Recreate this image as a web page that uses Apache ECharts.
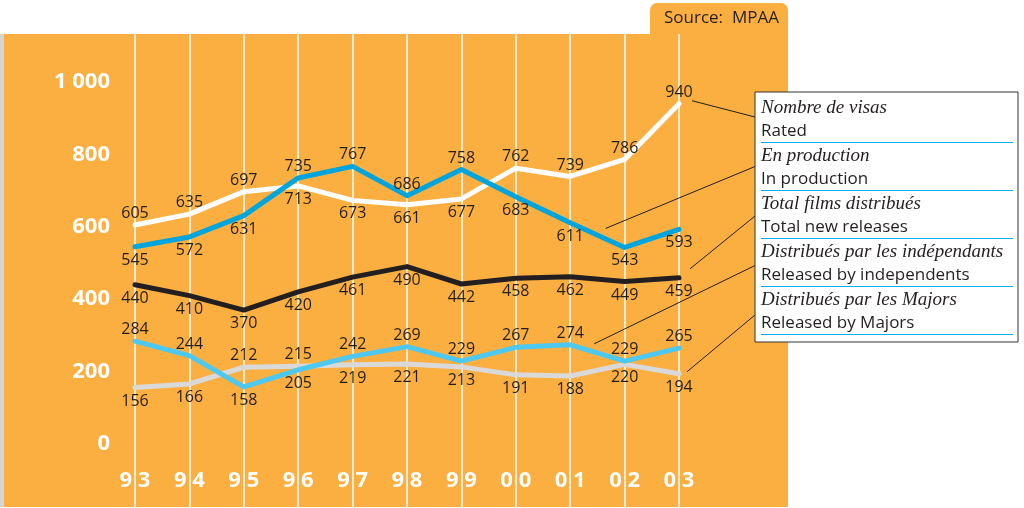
<!DOCTYPE html>
<html>
<head>
<meta charset="utf-8">
<title>MPAA - films</title>
<script src="https://cdn.jsdelivr.net/npm/echarts@6/dist/echarts.min.js"></script>
<style>
  html, body { margin: 0; padding: 0; background: #fff; }
  #chart { width: 1024px; height: 508px; }
</style>
</head>
<body>
<div id="chart"></div>
<script>
// years 1993 - 2003
var years = ['93', '94', '95', '96', '97', '98', '99', '00', '01', '02', '03']
var rated = [605, 635, 697, 713, 673, 661, 677, 762, 739, 786, 940]
var inProduction = [545, 572, 631, 735, 767, 686, 758, 683, 611, 543, 593]
var totalReleases = [440, 410, 370, 420, 461, 490, 442, 458, 462, 449, 459]
var independents = [284, 244, 158, 205, 242, 269, 229, 267, 274, 229, 265]
var majors = [156, 166, 212, 215, 219, 221, 213, 191, 188, 220, 194]
var yTicks = [0, 200, 400, 600, 800, 1000]

// legend texts (french / english)
var legendFr = ['Nombre de visas', 'En production', 'Total films distribués', 'Distribués par les indépendants', 'Distribués par les Majors']
var legendEn = ['Rated', 'In production', 'Total new releases', 'Released by independents', 'Released by Majors']

// where the value label sits: t = above the line, b = below
var ratedSide = 'tttbbbbtttt'
var productionSide = 'bbbttttbbbb'
var totalSide = 'bbbbbbbbbbb'
var independentsSide = 'ttbbttttttt'
var majorsSide = 'bbttbbbbbbb'

var orange = '#FAAF40'
var dark = '#231F20'

var chart = echarts.init(document.getElementById('chart'))

function makeSeries (name, values, sides, color) {
  return {
    name: name,
    type: 'line',
    xAxisIndex: 1,
    yAxisIndex: 1,
    symbol: 'circle',
    symbolSize: 1,
    itemStyle: { color: color },
    lineStyle: { color: color, width: 5, cap: 'round', join: 'round' },
    label: {
      show: true,
      color: dark,
      fontFamily: 'Open Sans',
      fontSize: 16
    },
    emphasis: { disabled: true },
    data: values.map(function (v, i) {
      var up = sides[i] === 't'
      return { value: v, label: { position: up ? 'top' : 'bottom', distance: up ? 3 : 5 } }
    })
  }
}

var series = [
  makeSeries(legendEn[0], rated, ratedSide, '#FFFFFF'),
  makeSeries(legendEn[1], inProduction, productionSide, '#00A5DE'),
  makeSeries(legendEn[2], totalReleases, totalSide, dark),
  makeSeries(legendEn[4], majors, majorsSide, '#D9D9D9'),
  makeSeries(legendEn[3], independents, independentsSide, '#4CC8F1')
]

var labelFont = { color: '#fff', fontFamily: 'Open Sans', fontWeight: 'bold', fontSize: 22 }

// static decoration: background, source tab, legend box
var graphics = [
  { type: 'rect', z: -100, shape: { x: 0, y: 34, width: 5, height: 473 }, style: { fill: '#d5d5d5' } },
  { type: 'rect', z: -100, shape: { x: 4, y: 34, width: 784, height: 473 }, style: { fill: orange } },
  { type: 'rect', z: -100, shape: { x: 650, y: 3, width: 138, height: 32, r: [7, 7, 0, 0] }, style: { fill: orange } },
  { type: 'text', z: 10, x: 664, y: 18, style: { text: 'Source:  MPAA', fill: dark, font: '17px "Open Sans"', textVerticalAlign: 'middle' } },
  { type: 'rect', z: 50, shape: { x: 755, y: 92, width: 263, height: 250 }, style: { fill: '#fff', stroke: '#333', lineWidth: 1 } }
]
legendFr.forEach(function (txt, i) {
  var y0 = 92 + i * 48
  graphics.push({ type: 'text', z: 51, x: 761, y: y0 + 16, style: { text: txt, fill: dark, font: 'italic 19px "Liberation Serif"', textVerticalAlign: 'middle' } })
  graphics.push({ type: 'text', z: 51, x: 761, y: y0 + 39, style: { text: legendEn[i], fill: dark, font: '17px "Open Sans"', textVerticalAlign: 'middle' } })
  graphics.push({ type: 'line', z: 51, shape: { x1: 761, y1: y0 + 50.5, x2: 1013, y2: y0 + 50.5 }, style: { stroke: '#00AEEF', lineWidth: 1.2 } })
})

var option = {
  animation: false,
  backgroundColor: '#fff',
  grid: [
    // only for the vertical white lines, spans the whole orange panel
    { left: 135, right: 345, top: 34, bottom: 1 },
    // data grid
    { left: 135, right: 345, top: 82, bottom: 64 }
  ],
  xAxis: [
    {
      gridIndex: 0,
      type: 'category',
      data: years,
      boundaryGap: false,
      axisLine: { show: false },
      axisTick: { show: false },
      axisLabel: { show: false },
      splitLine: { show: true, lineStyle: { color: '#fff', width: 1.5 } }
    },
    {
      gridIndex: 1,
      type: 'category',
      data: years,
      boundaryGap: false,
      axisLine: { show: false },
      axisTick: { show: false },
      splitLine: { show: false },
      axisLabel: Object.assign({
        interval: 0,
        margin: 26,
        formatter: function (s) { return s.split('').join(' ') }
      }, labelFont)
    }
  ],
  yAxis: [
    { gridIndex: 0, type: 'value', min: 0, max: 1, show: false },
    {
      gridIndex: 1,
      type: 'value',
      min: yTicks[0],
      max: yTicks[yTicks.length - 1],
      interval: yTicks[1] - yTicks[0],
      axisLine: { show: false },
      axisTick: { show: false },
      splitLine: { show: false },
      axisLabel: Object.assign({
        margin: 25,
        formatter: function (v) { return String(v).replace(/\B(?=(\d{3})+(?!\d))/g, ' ') }
      }, labelFont)
    }
  ],
  graphic: graphics,
  series: series
}
chart.setOption(option)

// leader lines from each curve to its legend row
// [series index, data index, dx, dy]
var leaders = [
  [0, 10, 13, -3],
  [1, 9, -19, -19],
  [2, 10, 11, -9],
  [4, 8, 24, -1],
  [3, 10, 8, -2]
]
leaders.forEach(function (l, i) {
  var s = series[l[0]]
  var p = chart.convertToPixel({ seriesIndex: l[0] }, [l[1], s.data[l[1]].value])
  graphics.push({
    type: 'line',
    z: 40,
    shape: { x1: p[0] + l[2], y1: p[1] + l[3], x2: 755, y2: 117 + i * 49.5 },
    style: { stroke: dark, lineWidth: 1 }
  })
})
chart.setOption({ graphic: graphics })
</script>
</body>
</html>
